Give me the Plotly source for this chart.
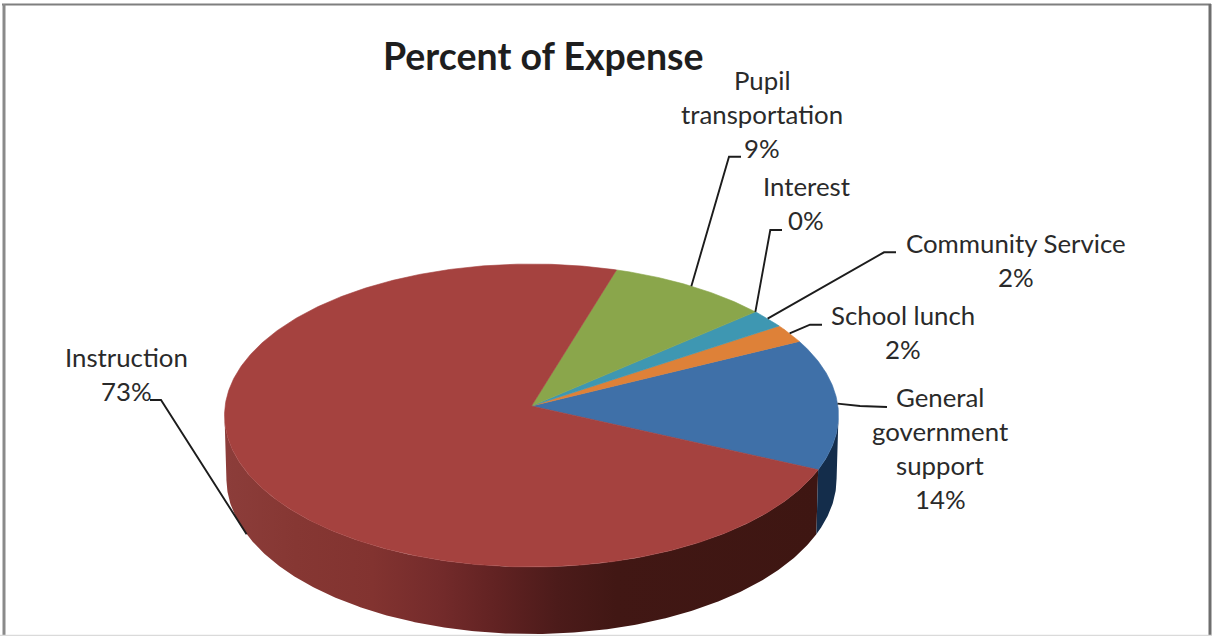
import numpy as np
import plotly.graph_objects as go

# Chart content
title_text = "Percent of Expense"
categories = ["General government support", "School lunch", "Community Service",
              "Interest", "Pupil transportation", "Instruction"]
values = [14, 2, 2, 0, 9, 73]
label_lines = [
    ["General", "government", "support", "14%"],
    ["School lunch", "2%"],
    ["Community Service", "2%"],
    ["Interest", "0%"],
    ["Pupil", "transportation", "9%"],
    ["Instruction", "73%"],
]

# Slice colours (top face)
slice_colors = ["#3F70A8", "#DE8138", "#3E97B2", "#3E97B2", "#8AA64B", "#A5423F"]

# Label placement: centre x, first line y, elbow of the leader line
label_x = [940, 903, 1016, 806, 762, 126]
label_y = [397, 315, 243, 186, 80, 357]
line_step = 34
leader_elbows = [
    [(860, 406), (887, 407)],
    [(810, 324.7), (822, 324.7)],
    [(884, 252.3), (896, 252.3)],
    [(770.3, 230), (782, 230)],
    [(729, 156.7), (741, 156.7)],
    [(161, 400), (150, 400)],
]

# Projection of the tilted disc onto the page
CX, CY = 531.5, 406.0
RX_TOP, RX_BASE = 306.4, 304.5
RY = 150.9
PERSP = 0.0627
DEPTH = 62.8
START_DEG = -24.3
# Angle past the horizontal at which the rim turns out of sight
SILHOUETTE_DEG = float(np.degrees(np.arcsin(PERSP)))


def project(deg, base=False, r=1.0):
    t = np.radians(np.asarray(deg, dtype=float))
    x, y = r * np.cos(t), r * np.sin(t)
    w = 1 + PERSP * y
    rx = RX_BASE if base else RX_TOP
    drop = DEPTH if base else 0.0
    return CX + rx * x / w, CY + (drop - RY * y) / w


def arc(a0, a1, base=False):
    n = max(2, int(abs(a1 - a0) * 2))
    return project(np.linspace(a0, a1, n), base)


# Boundaries run counter-clockwise from the start angle
edges = START_DEG + np.concatenate([[0], np.cumsum(values)]) * 360.0 / sum(values)

fig = go.Figure()


def wall(a0, a1, **style):
    tx, ty = arc(a0, a1)
    bx, by = arc(a1, a0, base=True)
    fig.add_trace(go.Scatter(
        x=np.concatenate([tx, bx]), y=np.concatenate([ty, by]),
        mode="lines", fill="toself", line=dict(width=0),
        hoverinfo="skip", showlegend=False, **style))


# Side walls sit under the top faces
red_stops = [
    (0.00, "#8C3D3A"), (0.12, "#863733"), (0.25, "#823330"), (0.36, "#742B2B"),
    (0.46, "#612222"), (0.56, "#4C1B1A"), (0.66, "#411714"), (1.00, "#3E1612"),
]
wall(-180 + SILHOUETTE_DEG, edges[0], fillgradient=dict(
    type="horizontal", colorscale=red_stops))
wall(edges[0], -SILHOUETTE_DEG, fillcolor="#142D4B")

# Top face of each slice
for i, cat in enumerate(categories):
    if values[i] == 0:
        continue
    ax, ay = arc(edges[i], edges[i + 1])
    fig.add_trace(go.Scatter(
        x=np.concatenate([[CX], ax, [CX]]),
        y=np.concatenate([[CY], ay, [CY]]),
        mode="lines", fill="toself", fillcolor=slice_colors[i],
        line=dict(width=0.6, color=slice_colors[i]),
        name=cat, hoverinfo="name", showlegend=False))

# Leader lines start at the middle of each slice's rim
for i, cat in enumerate(categories):
    mid = (edges[i] + edges[i + 1]) / 2
    # The large slice faces the viewer, so its leader reaches the base of the wall
    sx, sy = project(mid, base=(cat == "Instruction"))
    pts = [(float(sx), float(sy))] + leader_elbows[i]
    fig.add_trace(go.Scatter(
        x=[p[0] for p in pts], y=[p[1] for p in pts],
        mode="lines", line=dict(color="#1C1C1C", width=1.9),
        hoverinfo="skip", showlegend=False))

annotations = [dict(
    x=543, y=55.5, xref="x", yref="y", text=title_text, showarrow=False,
    font=dict(family="Lato", size=37.5, color="#1E1E1E", weight="bold"),
    xanchor="center", yanchor="middle")]
for i, lines in enumerate(label_lines):
    for j, line in enumerate(lines):
        annotations.append(dict(
            x=label_x[i], y=label_y[i] + j * line_step, xref="x", yref="y",
            text=line, showarrow=False,
            font=dict(family="Lato", size=25.8, color="#2A2A2A"),
            xanchor="center", yanchor="middle"))

# Chart frame
frame = [
    dict(type="line", x0=2, x1=1211, y0=4.5, y1=4.5, line=dict(color="#7F7F7F", width=2)),
    dict(type="line", x0=4, x1=4, y0=4, y1=636, line=dict(color="#8A8A8A", width=3)),
    dict(type="line", x0=1210, x1=1210, y0=4, y1=636, line=dict(color="#6E6E6E", width=3)),
    dict(type="line", x0=0, x1=1212, y0=635.5, y1=635.5, line=dict(color="#DADADA", width=1.5)),
]

fig.update_layout(
    width=1212, height=636,
    margin=dict(l=0, r=0, t=0, b=0),
    paper_bgcolor="white", plot_bgcolor="white",
    xaxis=dict(range=[0, 1212], visible=False, fixedrange=True),
    yaxis=dict(range=[636, 0], visible=False, fixedrange=True),
    annotations=annotations, shapes=frame,
)

fig.write_html("out.html", config=dict(displayModeBar=False))
